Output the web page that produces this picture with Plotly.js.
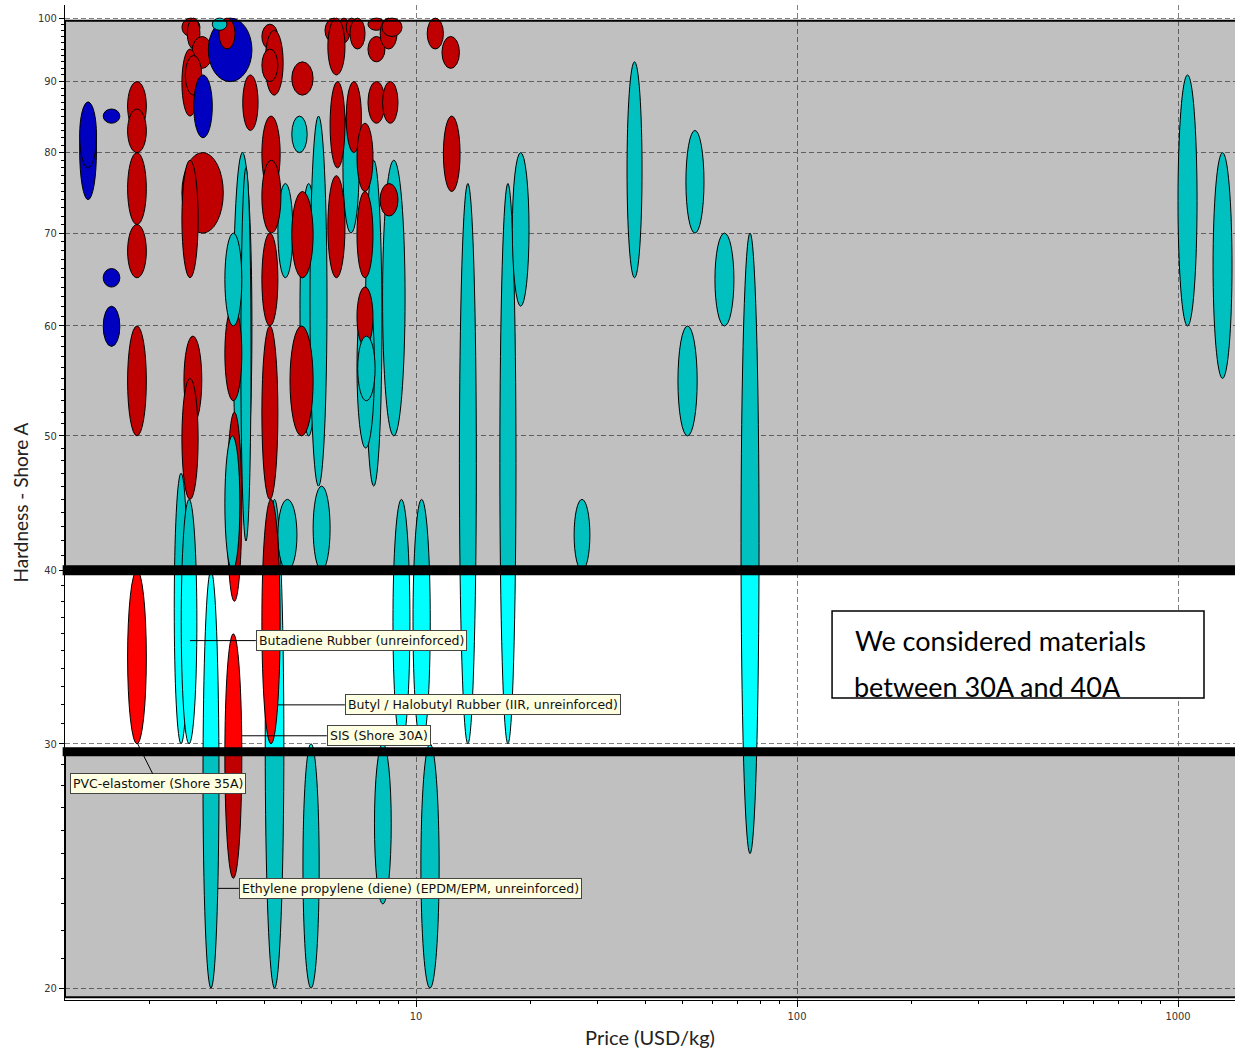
<!DOCTYPE html>
<html><head><meta charset="utf-8">
<script src="https://cdn.plot.ly/plotly-3.0.1.min.js"></script>
<style>html,body{margin:0;padding:0;background:#fff}#chart{width:1235px;height:1053px}</style>
</head><body><div id="chart"></div><script>
// Material bubbles: price range (USD/kg) x hardness range (Shore A); listed in drawing order
const family = ['teal','teal','teal','teal','teal','teal','teal','teal','teal','teal','teal','teal','teal','teal','teal','teal','teal','teal','teal','teal','teal','teal','teal','teal','teal','teal','teal','teal','teal','teal','teal',
 'red','red','red','red','red','red','red','red','red','red','red','red','red','red','red','red','red','red','red','red','red','red','red','red','red','red','red','red','red','red','red','red','red','red','red','red','red','red','red','red','red','red','red','red','red','red','red','red','red','red','red',
 'blue','blue','blue','blue','blue','blue','blue',
 'red','teal','teal','teal','teal','teal'];
const priceLo = [2.32,2.42,2.76,3.31,3.47,4.02,4.34,4.96,5.27,6.43,7.37,7.0,8.17,8.70,9.82,13.0,16.6,5.05,7.78,10.3,17.9,35.8,51.1,48.7,60.9,71.3,26.0,1000,1236,5.37,4.34,
 1.75,1.75,1.75,1.75,1.75,1.75,2.43,2.51,2.58,2.43,2.48,2.43,2.43,2.46,2.43,3.51,3.15,3.19,3.15,3.94,4.02,3.94,3.94,3.94,3.94,3.94,3.94,4.72,4.72,4.67,5.77,6.24,6.56,6.71,7.48,7.48,8.05,8.14,5.87,5.95,6.56,7.48,8.17,7.0,5.87,7.0,8.05,7.0,10.7,11.7,11.8,
 1.31,1.31,1.51,1.51,1.51,2.85,2.61,
 3.04,2.92,3.15,3.15,4.72,7.03];
const priceHi = [2.52,2.66,3.04,3.71,3.69,4.50,4.75,5.51,5.84,7.09,8.14,7.78,9.36,9.64,10.9,14.4,18.3,5.57,8.61,11.5,19.8,39.2,57.0,54.7,68.3,79.5,28.6,1122,1386,5.95,4.87,
 1.96,1.96,1.96,1.96,1.96,1.96,2.71,2.71,2.92,2.68,2.74,3.12,2.68,2.74,2.68,3.85,3.49,3.49,3.49,4.34,4.48,4.34,4.40,4.42,4.34,4.34,4.40,5.37,5.37,5.37,6.43,6.71,7.0,7.35,8.29,8.29,8.92,9.19,6.51,6.51,7.19,8.29,8.97,7.71,6.51,7.71,8.97,7.71,11.8,13.0,13.05,
 1.45,1.45,1.67,1.67,1.67,3.71,2.92,
 3.35,3.19,3.49,3.45,5.18,7.81];
const hardLo = [30,30,20,45,42,20,65,50,46,70,46,49,50,30,30,30,30,20,23,20,62,65,70,50,60,25,40,60,55,40,40,
 83,80,71,65,50,30,97,95,92,85,88,70,65,51,45,83,53,38,24,95,88,90,75,70,60,45,30,88,65,50,96,96,97,95,98,93,95,97,91,78,80,84,84,75,65,65,72,58,95,92,75,
 74,78,84,64,58,90,82,
 95,98,60,40,80,53];
const hardHi = [47,45,40,80,78,45,76,76,85,87,79,64,79,45,45,76,76,30,30,30,80,93,83,60,70,70,45,91,80,46,45,
 90,86,80,71,60,40,100,100,97,95,94,80,79,59,55,91,62,52,36,99,98,95,85,79,70,60,45,93,75,60,100,100,100,100,100,97,100,100,100,90,90,90,90,84,77,75,76,64,100,97,85,
 87,87,86,66,62,100,91,
 100,100,70,50,85,59];

// Highlighted band and annotations
const bandLow = 29.6, bandHigh = 40;
const labelText = ['Butadiene Rubber (unreinforced)','Butyl / Halobutyl Rubber (IIR, unreinforced)','SIS (Shore 30A)','PVC-elastomer (Shore 35A)','Ethylene propylene (diene) (EPDM/EPM, unreinforced)'];
const labelPrice = [2.55, 4.34, 3.49, 1.86, 3.02];
const labelHard = [35.6, 32.0, 30.4, 30.0, 23.6];
const yTicks = [20,30,40,50,60,70,80,90,100];
const xTicks = [10,100,1000];

const colorOf = {red:'#FF0000', teal:'#00FFFF', blue:'#0000FF'};
const shapes = [];
for (let i = 0; i < family.length; i++) {
  shapes.push({type:'circle', xref:'x', yref:'y', x0:priceLo[i], x1:priceHi[i], y0:hardLo[i], y1:hardHi[i],
    fillcolor: colorOf[family[i]], line:{color:'#000', width:1}, layer:'above'});
}
const dim = 'rgba(0,0,0,0.247)';
shapes.push({type:'rect', xref:'paper', yref:'y', x0:0, x1:1.05, y0:bandHigh, y1:99.55, fillcolor:dim, line:{color:'#000', width:2}, layer:'above'});
shapes.push({type:'rect', xref:'paper', yref:'y', x0:0, x1:1.05, y0:19.7, y1:bandLow, fillcolor:dim, line:{color:'#000', width:2}, layer:'above'});
shapes.push({type:'line', xref:'paper', yref:'y', x0:-0.002, x1:1.05, y0:bandHigh, y1:bandHigh, line:{color:'#000', width:10}, layer:'above'});
shapes.push({type:'line', xref:'paper', yref:'y', x0:-0.002, x1:1.05, y0:bandLow, y1:bandLow, line:{color:'#000', width:9}, layer:'above'});
// text box
shapes.push({type:'rect', xref:'paper', yref:'paper', x0:0.6556, x1:0.9735, y0:0.3035, y1:0.3910, fillcolor:'#fff', line:{color:'#000', width:1.5}, layer:'above'});

const offs = [[66,0,'left'],[67,0,'left'],[85,0,'left'],[20,40,'center'],[21,0,'left']];
const annotations = labelText.map((t,i) => ({
  x: Math.log10(labelPrice[i]), y: Math.log10(labelHard[i]), xref:'x', yref:'y', text:t,
  showarrow:true, arrowhead:0, arrowwidth:1, arrowcolor:'#000', ax:offs[i][0], ay:offs[i][1], axref:'pixel', ayref:'pixel',
  xanchor:offs[i][2], yanchor:'middle', bgcolor:'#FFFFE1', bordercolor:'#444', borderwidth:1, borderpad:2,
  font:{family:'DejaVu Sans, sans-serif', size:12.5, color:'#111'}
}));
annotations.push({xref:'paper', yref:'paper', x:(853-65)/1170, y:(1000-640)/995, xanchor:'left', yanchor:'middle', showarrow:false,
  text:'We considered materials', font:{family:'Lato, sans-serif', size:27, color:'#000'}});
annotations.push({xref:'paper', yref:'paper', x:(853-65)/1170, y:(1000-669)/995, xanchor:'left', yanchor:'top', showarrow:false,
  height:27, width:300, valign:'top', align:'left', borderpad:0,
  text:'between 30A and 40A', font:{family:'Lato, sans-serif', size:27, color:'#000'}});

const cx = priceLo.map((v,i)=>Math.sqrt(v*priceHi[i]));
const cy = hardLo.map((v,i)=>Math.sqrt(v*hardHi[i]));
const trace = {x:cx, y:cy, type:'scatter', mode:'markers', marker:{size:1, opacity:0}, hoverinfo:'x+y', showlegend:false};

const minorY = [];
for (let v = 21; v < 100; v++) if (v % 10) minorY.push(v);
const minorX = [2,3,4,5,6,7,8,9,20,30,40,50,60,70,80,90,200,300,400,500,600,700,800,900];
const tickFont = {family:'DejaVu Sans Condensed, DejaVu Sans, sans-serif', size:11, color:'#333'};

const layout = {
  width:1235, height:1053, autosize:false,
  margin:{l:65, r:0, t:5, b:53},
  paper_bgcolor:'#fff', plot_bgcolor:'#fff', showlegend:false,
  xaxis:{type:'log', range:[0.07874, 3.1496], tickmode:'array', tickvals:xTicks, ticktext:xTicks.map(String),
    ticks:'outside', ticklen:6, tickcolor:'#000', showline:true, linecolor:'#000', linewidth:1,
    showgrid:true, gridcolor:'#808080', griddash:'5px,3px', gridwidth:1, zeroline:false,
    minor:{tickmode:'array', tickvals:minorX, ticks:'outside', ticklen:3, tickcolor:'#000', showgrid:false},
    tickfont:tickFont, automargin:false,
    title:{text:'Price (USD/kg)', font:{family:'Lato, sans-serif', size:20, color:'#222'}, standoff:8}},
  yaxis:{type:'log', range:[Math.log10(19.61), Math.log10(102.2)], tickmode:'array', tickvals:yTicks, ticktext:yTicks.map(String),
    ticks:'outside', ticklen:5, tickcolor:'#000', showline:true, linecolor:'#000', linewidth:1,
    showgrid:true, gridcolor:'#808080', griddash:'5px,3px', gridwidth:1, zeroline:false,
    minor:{tickmode:'array', tickvals:minorY, ticks:'outside', ticklen:3, tickcolor:'#000', showgrid:false},
    tickfont:tickFont, automargin:false,
    title:{text:'Hardness - Shore A', font:{family:'Lato, sans-serif', size:19, color:'#222'}, standoff:4}},
  shapes:shapes, annotations:annotations
};
Plotly.newPlot('chart', [trace], layout, {displayModeBar:false, staticPlot:true});
</script></body></html>
